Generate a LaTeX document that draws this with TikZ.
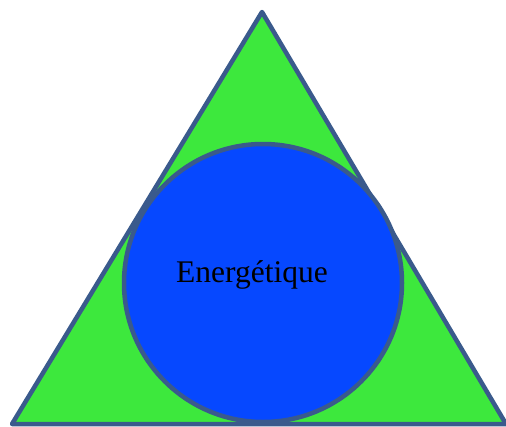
\documentclass[tikz,border=0pt]{standalone}
\usepackage{fontspec}
\setmainfont{Liberation Serif}
\definecolor{Leaf}{HTML}{3DE83D}
\definecolor{Deep}{HTML}{0648FF}
\definecolor{Edge}{HTML}{3A5A8C}

\begin{document}
\begin{tikzpicture}[x=1pt,y=-1pt,
    part/.style={draw=Edge,line width=4.5pt,line join=round}]
    \useasboundingbox (0,0) rectangle (506,426);
    \coordinate (top) at (262,12);
    \coordinate (bl) at (12,424);
    \coordinate (br) at (506,424);
    \draw[part,fill=Leaf] (top)--(br)--(bl)--cycle;
    \node[part,fill=Deep,circle,minimum size=278pt,inner sep=0pt] (core) at (263,283) {};
    \node[font=\fontsize{31.5}{36}\selectfont] (lbl) at (252,275) {Energétique};
  \end{tikzpicture}
\end{document}
